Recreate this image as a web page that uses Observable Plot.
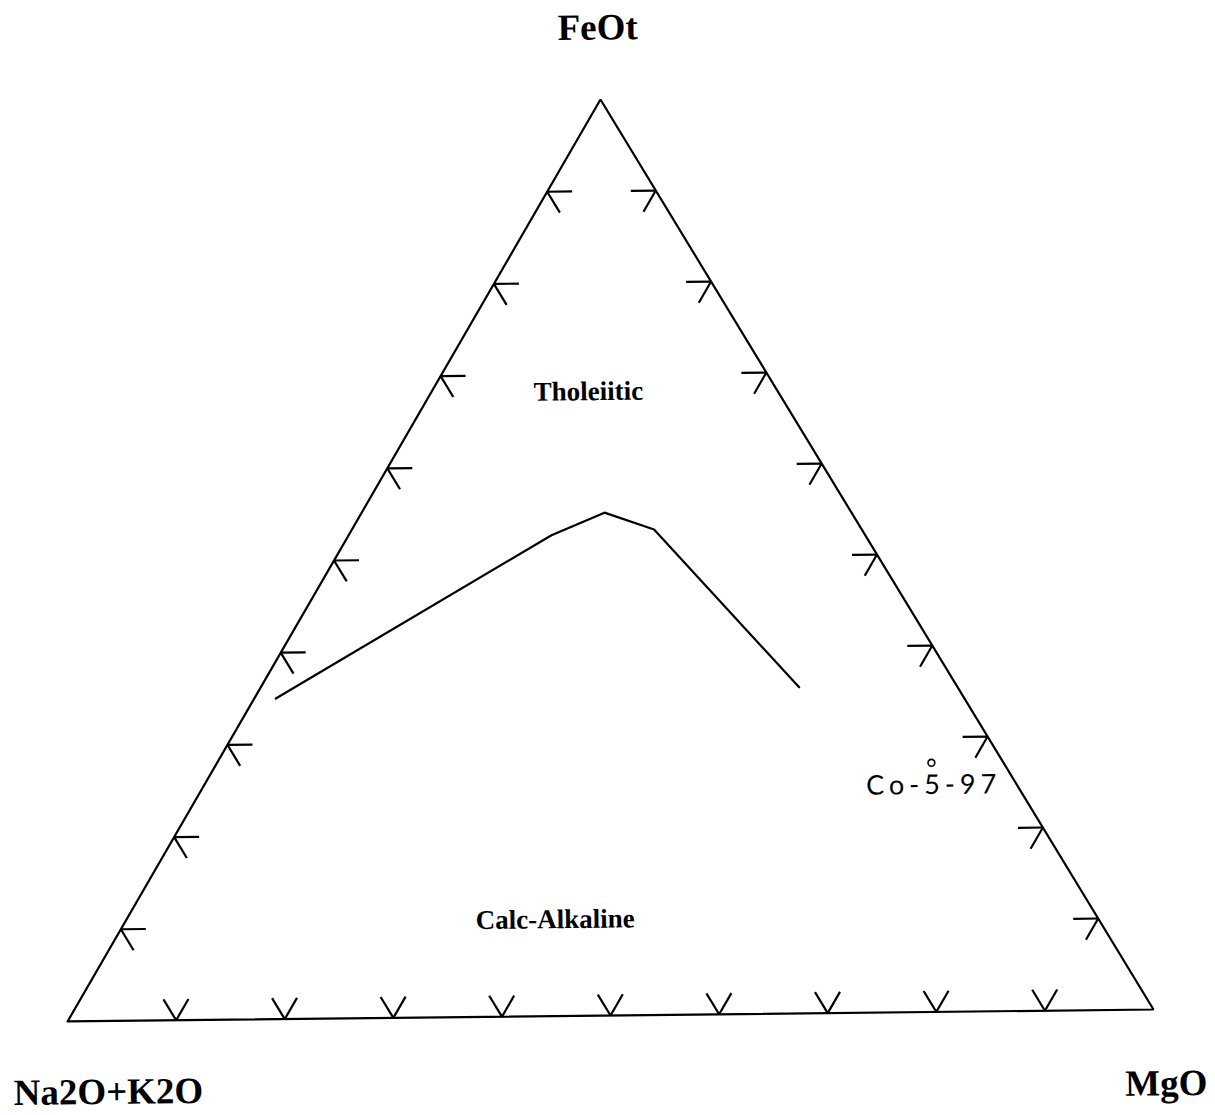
<!DOCTYPE html>
<html>
<head>
<meta charset="utf-8">
<script src="https://cdn.jsdelivr.net/npm/d3@7"></script>
<script src="https://cdn.jsdelivr.net/npm/@observablehq/plot@0.6"></script>
<style>
  body { margin: 0; background: #fff; }
  #chart svg { display: block; transform: rotate(-0.63deg); transform-origin: 607px 557px; }
</style>
</head>
<body>
<div id="chart"></div>
<script>
// ---- Data (ternary compositions as fractions: F = FeOt, M = MgO, A = Na2O+K2O = 1 - F - M) ----
const vertexNames = ["Na2O+K2O", "MgO", "FeOt"];
const vertexF = [0, 0, 1];
const vertexM = [0, 1, 0];

const tickValues = [0.1, 0.2, 0.3, 0.4, 0.5, 0.6, 0.7, 0.8, 0.9];

// Tholeiitic / calc-alkaline dividing line
const boundaryF = [0.350, 0.525, 0.549, 0.530, 0.356];
const boundaryM = [0.020, 0.188, 0.225, 0.280, 0.499];

// Field labels
const fieldNames = ["Tholeiitic", "Calc-Alkaline"];
const fieldF = [0.672, 0.096];
const fieldM = [0.150, 0.402];

// Hand-written sample annotation
const sampleNames = ["Co-5-97"];
const sampleF = [0.238];
const sampleM = [0.679];
const samplePointF = [0.272];
const samplePointM = [0.662];

// ---- Ternary helpers ----
const tx = (F, M) => M + F / 2;
const ARM = 0.023;

const outline = [0, 1, 2, 0].map(i => ({F: vertexF[i], M: vertexM[i]}));
const boundary = boundaryF.map((F, i) => ({F, M: boundaryM[i]}));

const arms = [];
for (const f of tickValues) {
  // left edge (M = 0)
  arms.push({F0: f, M0: 0, F1: f, M1: ARM});
  arms.push({F0: f, M0: 0, F1: f - ARM, M1: ARM});
  // right edge (A = 0)
  arms.push({F0: f, M0: 1 - f, F1: f, M1: 1 - f - ARM});
  arms.push({F0: f, M0: 1 - f, F1: f - ARM, M1: 1 - f});
  // bottom edge (F = 0)
  arms.push({F0: 0, M0: f, F1: ARM, M1: f - ARM});
  arms.push({F0: 0, M0: f, F1: ARM, M1: f});
}

const fields = fieldNames.map((name, i) => ({name, F: fieldF[i], M: fieldM[i]}));
const samples = sampleNames.map((name, i) => ({name, F: sampleF[i], M: sampleM[i]}));
const samplePts = samplePointF.map((F, i) => ({F, M: samplePointM[i]}));

const vertexOffsets = [
  {dx: 40, dy: 83},   // Na2O+K2O
  {dx: 12, dy: 86},   // MgO
  {dx: -2, dy: -60}   // FeOt
];
const vertexMarks = vertexNames.map((name, i) =>
  Plot.text([{name, F: vertexF[i], M: vertexM[i]}], {
    x: d => tx(d.F, d.M), y: "F", text: "name",
    dx: vertexOffsets[i].dx, dy: vertexOffsets[i].dy,
    lineAnchor: "bottom", textAnchor: "middle",
    fontFamily: "Liberation Serif", fontWeight: "bold", fontSize: 37, fill: "#000"
  })
);

const chart = Plot.plot({
  width: 1215,
  height: 1115,
  margin: 0,
  style: {background: "#fff", color: "#000"},
  x: {domain: [0, 1], range: [62, 1148], axis: null},
  y: {domain: [0, 1], range: [1015, 99], axis: null},
  marks: [
    Plot.line(outline, {x: d => tx(d.F, d.M), y: "F", stroke: "#000", strokeWidth: 2.2, strokeLinejoin: "miter", curve: "linear"}),
    Plot.link(arms, {
      x1: d => tx(d.F0, d.M0), y1: "F0",
      x2: d => tx(d.F1, d.M1), y2: "F1",
      stroke: "#000", strokeWidth: 2.2
    }),
    Plot.line(boundary, {x: d => tx(d.F, d.M), y: "F", stroke: "#000", strokeWidth: 2.2, curve: "linear"}),
    Plot.text(fields, {
      x: d => tx(d.F, d.M), y: "F", text: "name",
      lineAnchor: "bottom", textAnchor: "middle",
      fontFamily: "Liberation Serif", fontWeight: "bold", fontSize: 27, fill: "#000"
    }),
    Plot.text(samples, {
      x: d => tx(d.F, d.M), y: "F", text: "name", dx: 2,
      lineAnchor: "bottom", textAnchor: "middle",
      fontFamily: "Lato", fontWeight: 400, fontSize: 27, fill: "#000"
    }),
    Plot.dot(samplePts, {x: d => tx(d.F, d.M), y: "F", r: 3.4, stroke: "#000", strokeWidth: 1.6, fill: "none"}),
    ...vertexMarks
  ]
});

for (const t of chart.querySelectorAll("text")) {
  if (sampleNames.includes(t.textContent)) t.style.letterSpacing = "5px";
}

document.getElementById("chart").appendChild(chart);
</script>
</body>
</html>
